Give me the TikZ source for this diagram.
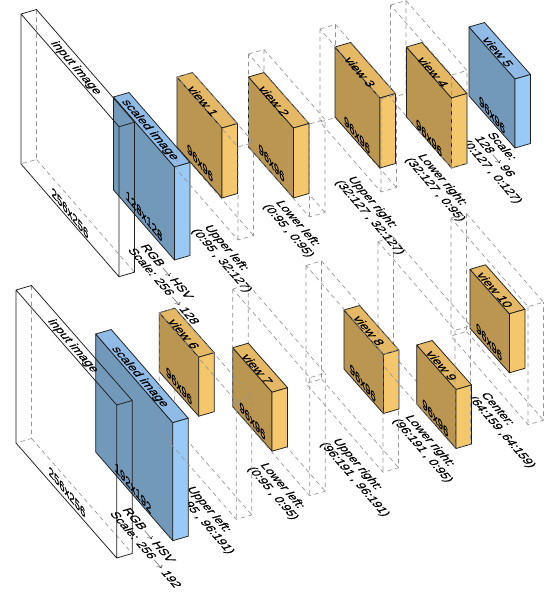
\documentclass[tikz,border=0pt]{standalone}
\usepackage{fontspec}
\setmainfont[FakeBold=0.35]{Liberation Sans}
\definecolor{orangetop}{HTML}{E4B864}
\definecolor{orangefront}{HTML}{BB9650}
\definecolor{orangeside}{HTML}{F5C76C}
\definecolor{bluetop}{HTML}{8FBBE6}
\definecolor{bluefront}{HTML}{7399BA}
\definecolor{blueside}{HTML}{99CAF5}
\tikzset{
	cropline/.style={draw=black!42,line width=0.65pt,dash pattern=on 4.5pt off 3.5pt},
	edgeline/.style={draw=black!88,line width=0.75pt,line join=round},
	skewtext/.style={transform shape,cm={.872,-1.003,1.15,.34,(0,0)},inner sep=0pt,
		font=\fontsize{10}{11}\selectfont},
	facetext/.style={transform shape,cm={.954,-1.158,0,1.3,(0,0)},inner sep=0pt,
		font=\fontsize{10}{11}\selectfont},
	notetext/.style={transform shape,cm={.833,-.958,1.15,.34,(0,0)},inner sep=0pt,
		font=\fontsize{10}{11}\selectfont,anchor=west,align=left}
}
%x, y, then the long edge dx, dy, then the height
\newcommand{\cropback}[5]{\draw[cropline] (#1+15.5,#2-4.5) -- (#1+15.5,#2-4.5+#5) -- (#1,#2+#5)
	(#1+15.5,#2-4.5+#5) -- (#1+15.5+#3,#2-4.5+#4+#5)}
\newcommand{\cropfront}[5]{\draw[cropline] (#1,#2) -- (#1+15.5,#2-4.5) -- (#1+15.5+#3,#2-4.5+#4) -- (#1+#3,#2+#4) -- cycle
	(#1,#2) -- (#1,#2+#5) -- (#1+#3,#2+#4+#5) -- (#1+15.5+#3,#2-4.5+#4+#5) -- (#1+15.5+#3,#2-4.5+#4)
	(#1+#3,#2+#4) -- (#1+#3,#2+#4+#5)}
\newcommand{\slab}[6]{\filldraw[edgeline,fill=#6front] (#1,#2) -- (#1+#3,#2+#4) -- (#1+#3,#2+#4+#5) -- (#1,#2+#5) -- cycle;
	\filldraw[edgeline,fill=#6top] (#1,#2) -- (#1+15.5,#2-4.5) -- (#1+15.5+#3,#2-4.5+#4) -- (#1+#3,#2+#4) -- cycle;
	\filldraw[edgeline,fill=#6side] (#1+#3,#2+#4) -- (#1+15.5+#3,#2-4.5+#4) -- (#1+15.5+#3,#2-4.5+#4+#5) -- (#1+#3,#2+#4+#5) -- cycle}
\newcommand{\inputframe}[5]{\cropback{#1}{#2}{#3}{#4}{#5};
	\draw[edgeline] (#1,#2) -- (#1+15.5,#2-4.5) -- (#1+15.5+#3,#2-4.5+#4) -- (#1+#3,#2+#4) -- cycle
	(#1,#2) -- (#1,#2+#5) -- (#1+#3,#2+#4+#5) -- (#1+15.5+#3,#2-4.5+#4+#5) -- (#1+15.5+#3,#2-4.5+#4)
	(#1+#3,#2+#4) -- (#1+#3,#2+#4+#5)}
\newcommand{\toarrow}{\,$\rightarrow$\,}

\begin{document}
\begin{tikzpicture}[x=1pt,y=-1pt]
	\useasboundingbox (0,0) rectangle (547,593);
%Hidden edges of the crops
	\cropback{177}{77}{61}{70}{93};
	\cropback{248.5}{54}{61}{70}{93};
	\cropback{320}{29}{61}{70}{93};
	\cropback{390.5}{5}{61}{70}{93};
	\cropback{159.3}{312.7}{77}{88.7}{118};
	\cropback{232.7}{289}{77}{88.7}{118};
	\cropback{306}{265.5}{77}{88.7}{118};
	\cropback{378}{241.6}{77}{88.7}{118};
	\cropback{451}{218}{77}{88.7}{118};
%Notes under the blocks
	\node[notetext] (noteConvA) at (137.5,246.5) {RGB\toarrow HSV\\Scale: 256\toarrow 128};
	\node[notetext] (noteOne) at (200.5,227.5) {Upper left:\\(0:95 , 32:127)};
	\node[notetext] (noteTwo) at (272,203) {Lower left:\\(0:95 , 0:95)};
	\node[notetext] (noteThree) at (344,179) {Upper right:\\(32:127 , 32:127)};
	\node[notetext] (noteFour) at (414,156.5) {Lower right:\\(32:127 , 0:95)};
	\node[notetext] (noteFive) at (477,136.7) {Scale:\\128\toarrow 96\\(0:127 , 0:127)};
	\node[notetext] (noteConvB) at (119.5,510) {RGB\toarrow HSV\\Scale: 256\toarrow 192};
	\node[notetext] (noteSix) at (183,489) {Upper left:\\(0:95 , 96:191)};
	\node[notetext] (noteSeven) at (256.5,465.5) {Lower left:\\(0:95 , 0:95)};
	\node[notetext] (noteEight) at (329,441) {Upper right:\\(96:191 , 96:191)};
	\node[notetext] (noteNine) at (401.5,417.5) {Lower right:\\(96:191 , 0:95)};
	\node[notetext] (noteTen) at (477,395) {Center:\\(64:159 ,64:159)};
%The first row
	\slab{113.5}{97}{61}{70}{93}{blue};
	\slab{177}{77}{45}{51}{70}{orange};
	\slab{248.5}{77}{45}{51}{70}{orange};
	\slab{335}{47}{45}{51}{70}{orange};
	\slab{406.5}{47}{45}{51}{70}{orange};
	\slab{469}{27}{46}{52}{69}{blue};
%The second row
	\slab{95.7}{334}{77}{88.7}{118}{blue};
	\slab{159.3}{312.7}{39.4}{44.5}{59}{orange};
	\slab{232.7}{347.7}{39.4}{44.5}{59}{orange};
	\slab{344}{310}{39.4}{44.5}{59}{orange};
	\slab{416.7}{345}{39.4}{44.5}{59}{orange};
	\slab{470}{269.3}{39.4}{44.5}{59}{orange};
%Visible edges of the crops
	\cropfront{177}{77}{61}{70}{93};
	\cropfront{248.5}{54}{61}{70}{93};
	\cropfront{320}{29}{61}{70}{93};
	\cropfront{390.5}{5}{61}{70}{93};
	\cropfront{159.3}{312.7}{77}{88.7}{118};
	\cropfront{232.7}{289}{77}{88.7}{118};
	\cropfront{306}{265.5}{77}{88.7}{118};
	\cropfront{378}{241.6}{77}{88.7}{118};
	\cropfront{451}{218}{77}{88.7}{118};
%The input frames
	\inputframe{21}{14}{98}{112.7}{150};
	\inputframe{16}{290}{100.7}{115}{153};
%Texts on the faces
	\node[skewtext] (inputA) at (76,68) {input image};
	\node[facetext] (sizeInA) at (70,213) {256x256};
	\node[skewtext] (scaledA) at (150,130) {scaled image};
	\node[facetext] (sizeScA) at (144,216) {128x128};
	\node[skewtext] (viewOne) at (203,101) {view 1};
	\node[facetext] (sizeOne) at (200,163) {96x96};
	\node[skewtext] (viewTwo) at (274,101) {view 2};
	\node[facetext] (sizeTwo) at (271.5,163) {96x96};
	\node[skewtext] (viewThree) at (360,72) {view 3};
	\node[facetext] (sizeThree) at (357,135) {96x96};
	\node[skewtext] (viewFour) at (433,72) {view 4};
	\node[facetext] (sizeFour) at (429,138) {96x96};
	\node[skewtext] (viewFive) at (498,52) {view 5};
	\node[facetext] (sizeFive) at (492,115) {96x96};
	\node[skewtext] (inputB) at (73,346) {input image};
	\node[facetext] (sizeInB) at (67,492) {256x256};
	\node[skewtext] (scaledB) at (140,377) {scaled image};
	\node[facetext] (sizeScB) at (133,488) {192x192};
	\node[skewtext] (viewSix) at (184,334) {view 6};
	\node[facetext] (sizeSix) at (179,386) {96x96};
	\node[skewtext] (viewSeven) at (257.4,369) {view 7};
	\node[facetext] (sizeSeven) at (252.4,421) {96x96};
	\node[skewtext] (viewEight) at (369,330.7) {view 8};
	\node[facetext] (sizeEight) at (362.7,383) {96x96};
	\node[skewtext] (viewNine) at (441.7,365.7) {view 9};
	\node[facetext] (sizeNine) at (435.3,418) {96x96};
	\node[skewtext] (viewTen) at (495,290) {view 10};
	\node[facetext] (sizeTen) at (489,342) {96x96};
\end{tikzpicture}
\end{document}
